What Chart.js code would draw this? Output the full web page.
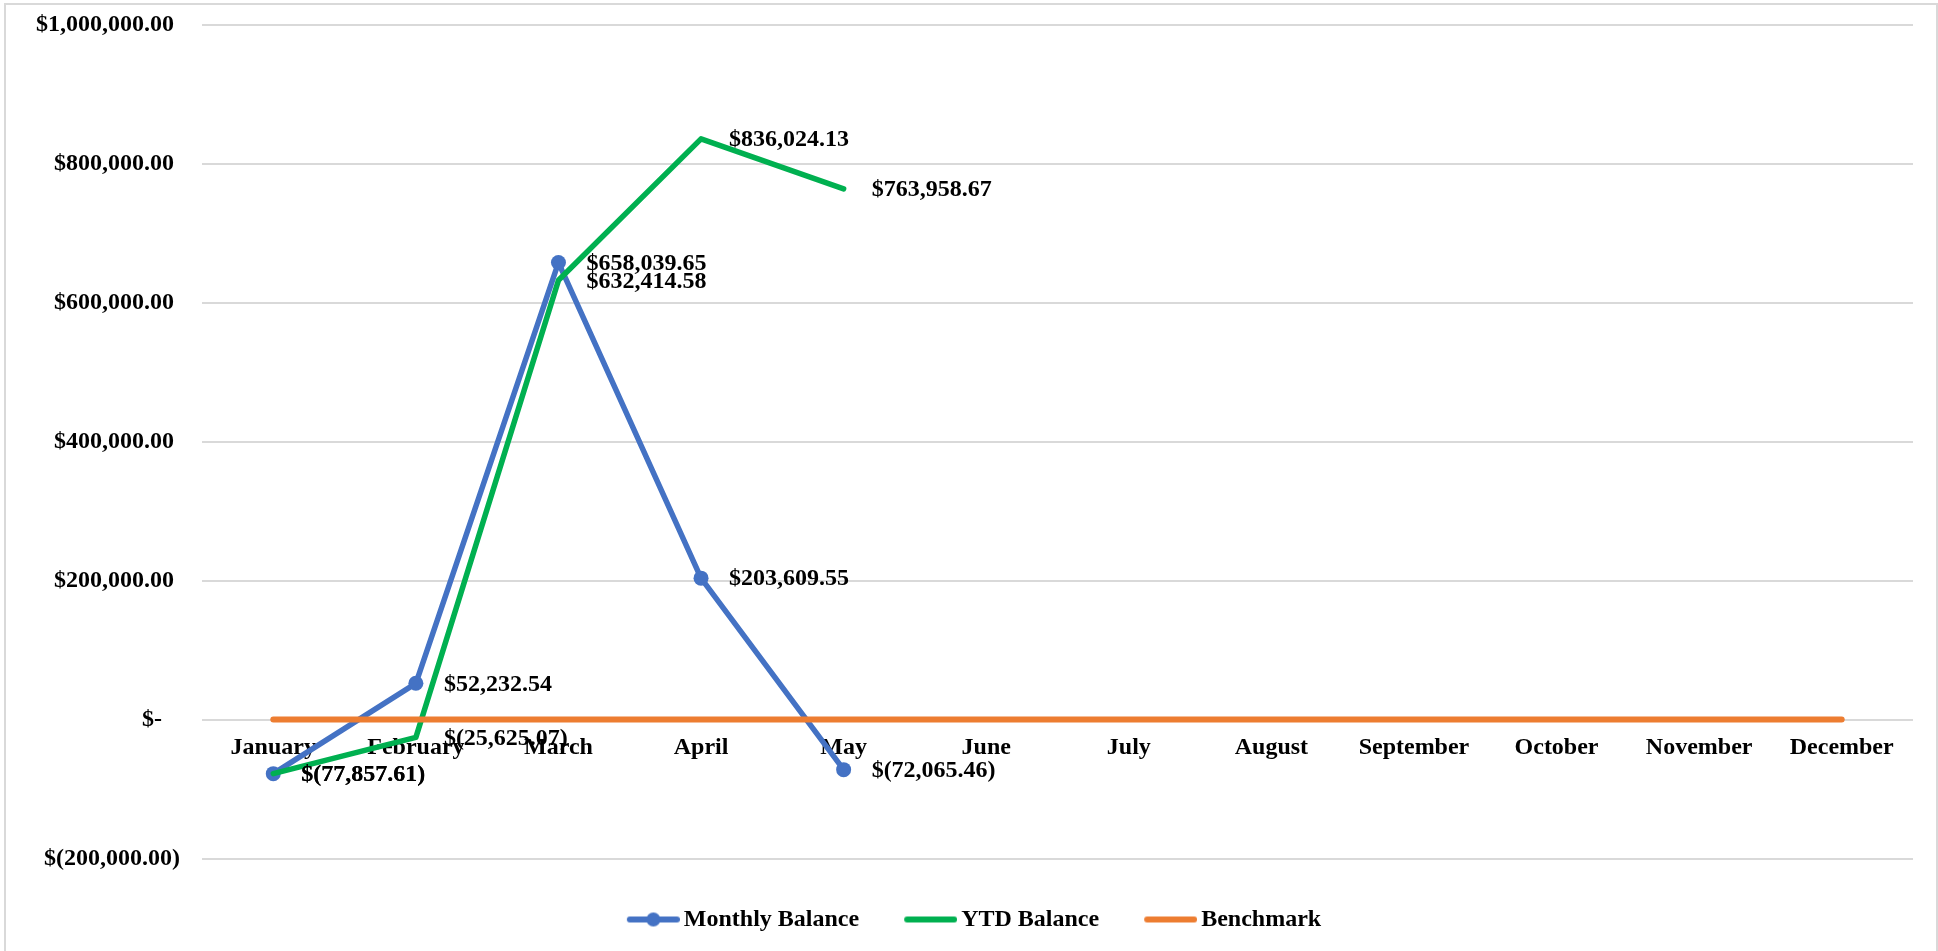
<!DOCTYPE html>
<html><head><meta charset="utf-8">
<script src="https://cdn.jsdelivr.net/npm/chart.js@4/dist/chart.umd.min.js"></script>
<style>html,body{margin:0;padding:0;background:#fff;overflow:hidden}#wrap{width:1938px;height:951px;position:relative}</style>
</head><body><div id="wrap"><canvas id="c" width="1938" height="951"></canvas></div>
<script>
const months = ['January','February','March','April','May','June','July','August','September','October','November','December'];
const monthlyBalance = [-77857.61, 52232.54, 658039.65, 203609.55, -72065.46, null, null, null, null, null, null, null];
const ytdBalance = [-77857.61, -25625.07, 632414.58, 836024.13, 763958.67, null, null, null, null, null, null, null];
const benchmark = [0, 0, 0, 0, 0, 0, 0, 0, 0, 0, 0, 0];
const seriesNames = ['Monthly Balance', 'YTD Balance', 'Benchmark'];
const yMin = -200000, yMax = 1000000, yStep = 200000;

const BLUE = '#4472C4', GREEN = '#00B050', ORANGE = '#ED7D31', GRID = '#D9D9D9';
const FONT = '"Liberation Serif", "Times New Roman", serif';

function money(v) {
  return Math.abs(v).toLocaleString('en-US', {minimumFractionDigits: 2, maximumFractionDigits: 2});
}
function axisFmt(v) {
  if (v === 0) return '$-   ';
  if (v < 0) return '$(' + money(v) + ')';
  return '$' + money(v) + ' ';
}
function labelFmt(v) {
  if (v === 0) return '$-';
  if (v < 0) return '$(' + money(v) + ')';
  return '$' + money(v);
}

function marker(color, dot) {
  const c = document.createElement('canvas');
  c.width = 96; c.height = 20;
  const g = c.getContext('2d');
  g.strokeStyle = color; g.lineWidth = 6; g.lineCap = 'round';
  g.beginPath(); g.moveTo(46, 10); g.lineTo(93, 10); g.stroke();
  if (dot) { g.fillStyle = color; g.beginPath(); g.arc(69.5, 10, 7, 0, Math.PI * 2); g.fill(); }
  return c;
}
const markers = [marker(BLUE, true), marker(GREEN, false), marker(ORANGE, false)];

const frame = {
  id: 'frame',
  beforeDraw(chart) {
    const ctx = chart.ctx;
    ctx.save();
    ctx.fillStyle = '#fff'; ctx.fillRect(0, 0, chart.width, chart.height);
    ctx.strokeStyle = GRID; ctx.lineWidth = 2;
    ctx.strokeRect(5, 4, 1932, 980);
    ctx.restore();
  }
};

const dataLabels = {
  id: 'dataLabels',
  afterDatasetsDraw(chart) {
    const ctx = chart.ctx;
    ctx.save();
    ctx.font = 'bold 24px ' + FONT;
    ctx.fillStyle = '#000';
    ctx.textAlign = 'left';
    ctx.textBaseline = 'middle';
    [0, 1].forEach(di => {
      const meta = chart.getDatasetMeta(di);
      const ds = chart.data.datasets[di];
      meta.data.forEach((pt, i) => {
        const v = ds.data[i];
        if (v === null || v === undefined) return;
        ctx.fillText(labelFmt(v), pt.x + 28, pt.y + 1);
      });
    });
    ctx.restore();
  }
};

Chart.defaults.font.family = FONT;
Chart.defaults.font.size = 24;
Chart.defaults.font.weight = 'bold';
Chart.defaults.color = '#000';

new Chart(document.getElementById('c'), {
  type: 'line',
  data: {
    labels: months,
    datasets: [
      {label: seriesNames[0], data: monthlyBalance, borderColor: BLUE, backgroundColor: BLUE, borderWidth: 5.5,
       pointRadius: 7.5, pointHoverRadius: 7.5, pointBackgroundColor: BLUE, pointBorderWidth: 0,
       borderCapStyle: 'round', borderJoinStyle: 'round', tension: 0, order: 3, spanGaps: false},
      {label: seriesNames[1], data: ytdBalance, borderColor: GREEN, backgroundColor: GREEN, borderWidth: 5.5,
       pointRadius: 0, borderCapStyle: 'round', borderJoinStyle: 'round', tension: 0, order: 2},
      {label: seriesNames[2], data: benchmark, borderColor: ORANGE, backgroundColor: ORANGE, borderWidth: 6,
       pointRadius: 0, borderCapStyle: 'round', borderJoinStyle: 'round', tension: 0, order: 1}
    ]
  },
  options: {
    responsive: false,
    animation: false,
    devicePixelRatio: 1,
    layout: {padding: {left: 0, right: 25, top: 25, bottom: 9.5}},
    plugins: {
      tooltip: {enabled: false},
      legend: {
        position: 'bottom',
        labels: {
          usePointStyle: true,
          pointStyleWidth: 80,
          padding: 10,
          color: '#000',
          font: {size: 24, weight: 'bold', family: FONT},
          sort: (a, b) => a.datasetIndex - b.datasetIndex,
          generateLabels(chart) {
            return chart.data.datasets.map((ds, i) => ({
              text: ds.label, pointStyle: markers[i], datasetIndex: i,
              fillStyle: ds.borderColor, strokeStyle: ds.borderColor, lineWidth: 0, hidden: false, fontColor: '#000'
            }));
          }
        }
      }
    },
    scales: {
      x: {
        type: 'category',
        position: {y: 0},
        offset: true,
        grid: {display: false, drawTicks: false},
        border: {display: false},
        ticks: {padding: 13.5, autoSkip: false, maxRotation: 0, color: '#000', font: {size: 24, weight: 'bold'}}
      },
      pad: {
        type: 'category', axis: 'x', position: 'bottom', display: true,
        grid: {display: false, drawTicks: false}, border: {display: false},
        ticks: {display: false},
        afterFit(s) { s.height = 39; }
      },
      y: {
        min: yMin, max: yMax,
        grid: {color: GRID, lineWidth: 2, drawTicks: false},
        border: {display: false},
        ticks: {stepSize: yStep, padding: 22, color: '#000', font: {size: 24, weight: 'bold'}, callback: v => axisFmt(v)},
        afterFit(s) { s.width = 202; s.paddingTop = 10; s.paddingBottom = 10; }
      }
    }
  },
  plugins: [frame, dataLabels]
});
</script></body></html>
